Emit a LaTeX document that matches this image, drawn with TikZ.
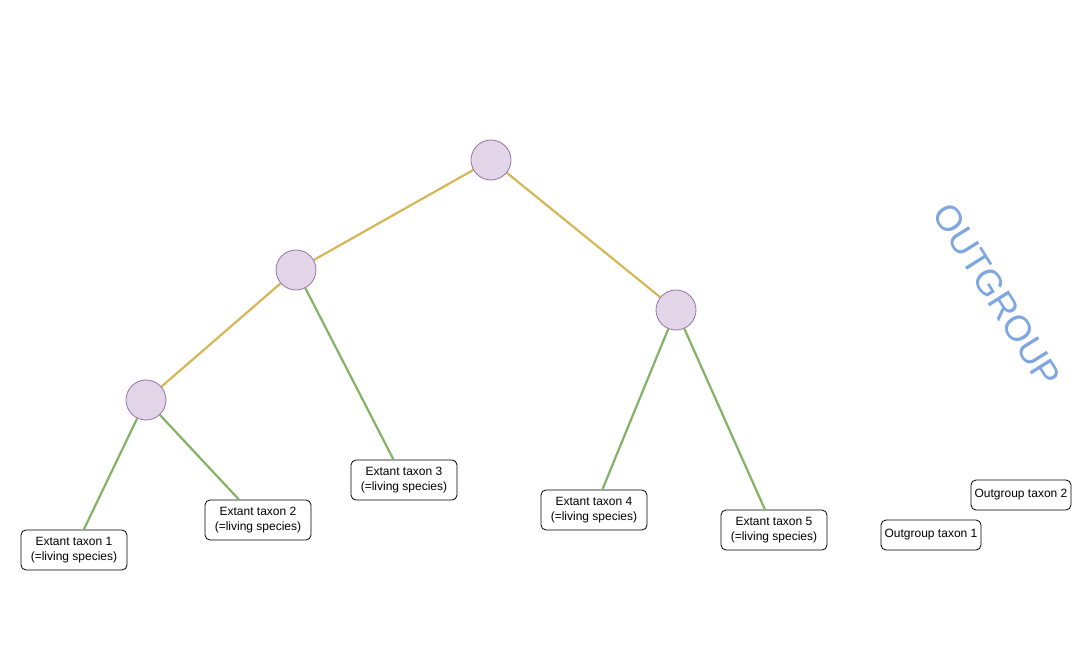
\documentclass[tikz,border=0pt]{standalone}
\usepackage{fontspec}
\setmainfont{Liberation Sans}
\definecolor{nodefill}{HTML}{E1D5E7}
\definecolor{nodedraw}{HTML}{9673A6}
\definecolor{edgeyellow}{HTML}{D6B656}
\definecolor{edgegreen}{HTML}{82B366}
\definecolor{outblue}{HTML}{7EA6E0}
\tikzset{
  clade/.style={circle, draw=nodedraw, fill=nodefill, line width=0.8pt, minimum size=40pt, inner sep=0pt},
  taxon/.style={draw=black, fill=white, rounded corners=5pt, line width=0.8pt, minimum width=106pt, minimum height=40pt, inner sep=0pt, align=center, font=\fontsize{12}{15}\selectfont},
  outtaxon/.style={taxon, minimum width=100pt, minimum height=30pt},
  inner/.style={draw=edgeyellow, line width=2.2pt},
  leaf/.style={draw=edgegreen, line width=2.2pt},
}
\begin{document}
\begin{tikzpicture}[x=1pt,y=-1pt]
\useasboundingbox (0,0) rectangle (1072,671);
\node[clade] (root) at (491,160) {};
\node[clade] (a) at (296,270) {};
\node[clade] (b) at (146,400) {};
\node[clade] (c) at (676,310) {};
\node[taxon] (t1) at (74,550) {Extant taxon 1\\(=living species)};
\node[taxon] (t2) at (258,520) {Extant taxon 2\\(=living species)};
\node[taxon] (t3) at (404,480) {Extant taxon 3\\(=living species)};
\node[taxon] (t4) at (594,510) {Extant taxon 4\\(=living species)};
\node[taxon] (t5) at (774,530) {Extant taxon 5\\(=living species)};
\node[outtaxon] (o1) at (931,535) {Outgroup taxon 1};
\node[outtaxon] (o2) at (1021,495) {Outgroup taxon 2};
\node[text=outblue, font=\fontsize{36}{36}\selectfont, rotate=-58, inner sep=0pt] (og) at (997,295) {OUTGROUP};
\draw[inner] (root) -- (a);
\draw[inner] (root) -- (c);
\draw[inner] (a) -- (b);
\draw[leaf] (b) -- (t1);
\draw[leaf] (b) -- (t2);
\draw[leaf] (a) -- (t3);
\draw[leaf] (c) -- (t4);
\draw[leaf] (c) -- (t5);
\end{tikzpicture}
\end{document}
